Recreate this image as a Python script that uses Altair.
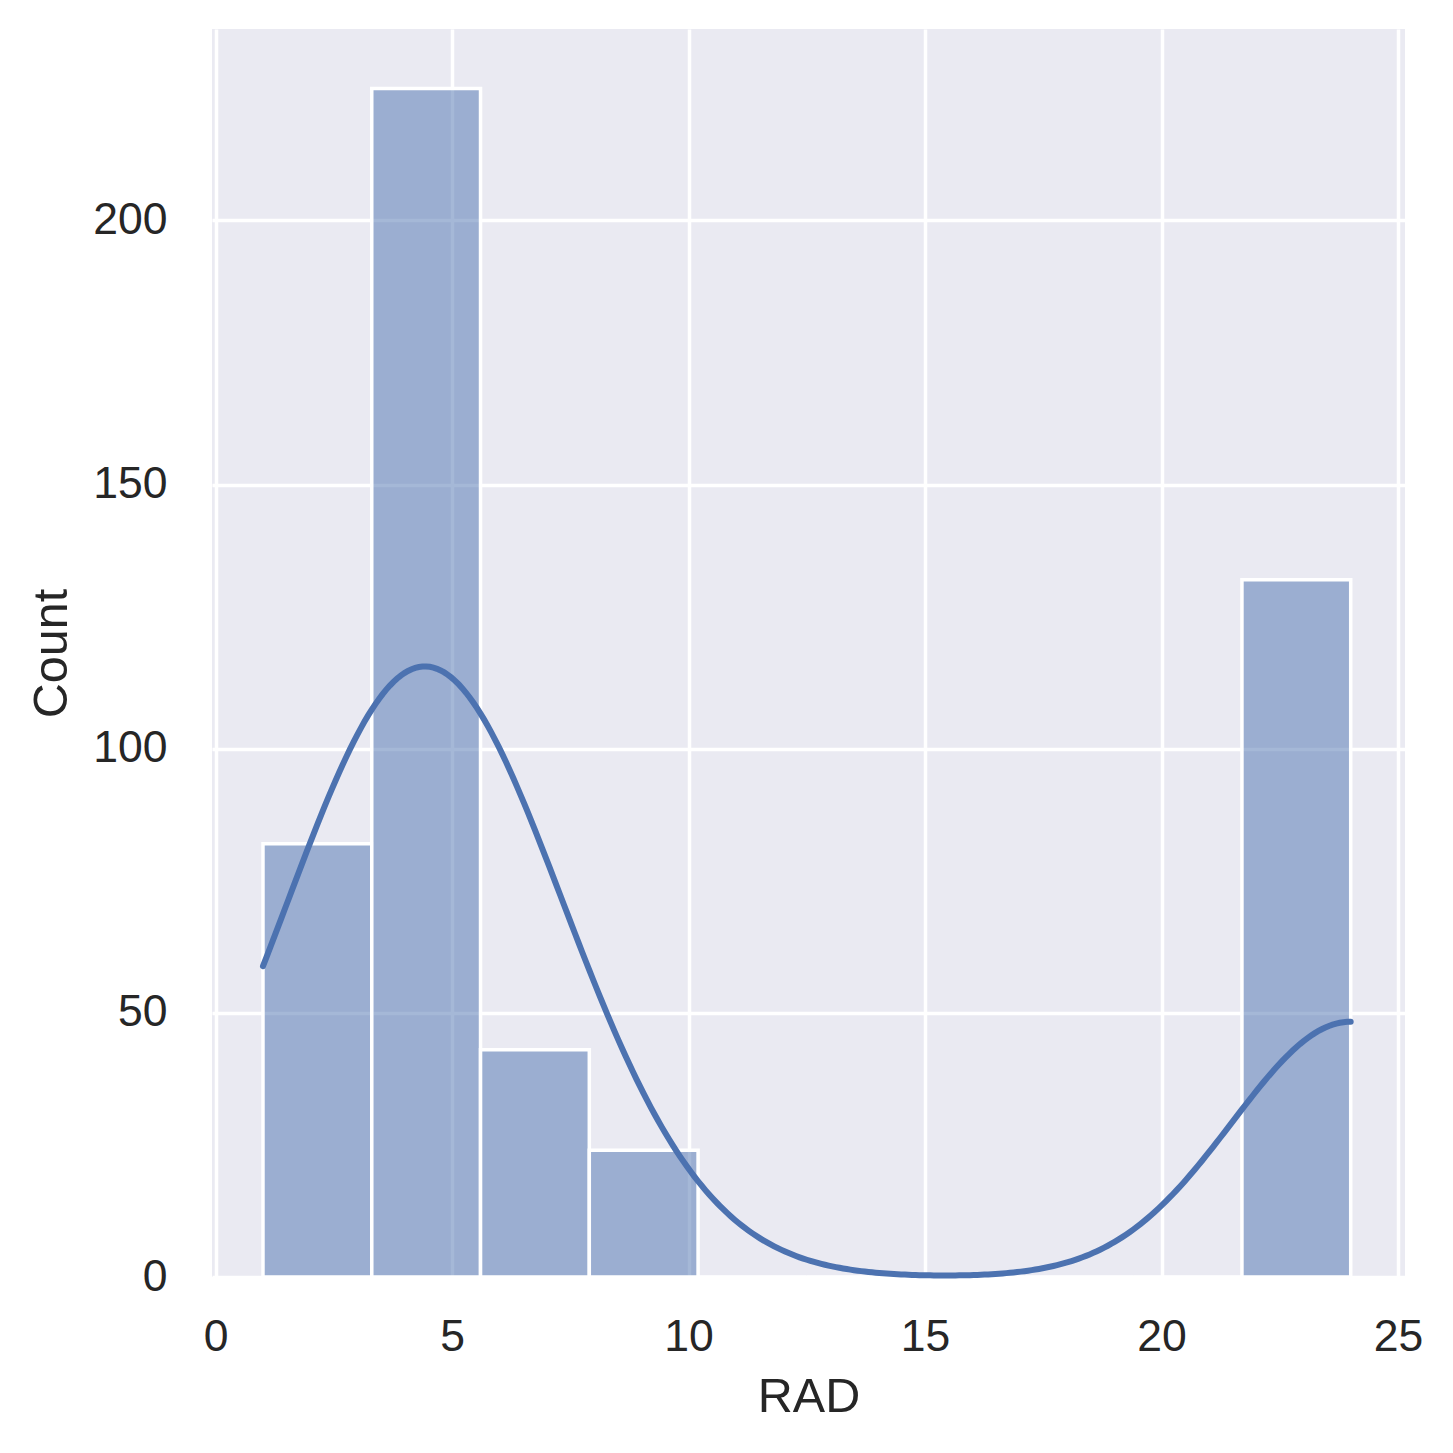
import numpy as np
import pandas as pd
import altair as alt

# RAD index values and how many tracts have each value
rad_values = [1, 2, 3, 4, 5, 6, 7, 8, 24]
rad_counts = [20, 24, 38, 110, 115, 26, 17, 24, 132]

x_ticks = [0, 5, 10, 15, 20, 25]
y_ticks = [0, 50, 100, 150, 200]

raw = np.repeat(np.array(rad_values, dtype=float), rad_counts)
raw_df = pd.DataFrame({"RAD": raw})

# histogram: 10 bins across the data range (as seaborn's histplot)
counts, edges = np.histogram(raw, bins=10)
bins_df = pd.DataFrame({"x0": edges[:-1], "x1": edges[1:], "count": counts})
bin_width = float(edges[1] - edges[0])

# Scott bandwidth, as scipy's gaussian_kde
bw = float(raw.std(ddof=1) * len(raw) ** (-1 / 5))

xscale = alt.Scale(domain=[-0.078, 25.148], nice=False, zero=False)
yscale = alt.Scale(domain=[0, 236.25], nice=False)

bars = alt.Chart(bins_df).mark_rect(
    fill="#4C72B0", fillOpacity=0.5, stroke="white", strokeWidth=3.5
).encode(
    x=alt.X("x0:Q", scale=xscale,
            axis=alt.Axis(values=x_ticks, title="RAD", format="d")),
    x2="x1:Q",
    y=alt.Y("count:Q", scale=yscale,
            axis=alt.Axis(values=y_ticks, title="Count", format="d")),
    y2=alt.datum(0),
)

kde = alt.Chart(raw_df).transform_density(
    "RAD", bandwidth=bw, extent=[1, 24], steps=300, counts=True,
    as_=["RAD", "density"],
).transform_calculate(
    count=f"datum.density * {bin_width}"
).mark_line(color="#4C72B0", strokeWidth=6, strokeCap="round").encode(
    x=alt.X("RAD:Q", scale=xscale),
    y=alt.Y("count:Q", scale=yscale),
)

chart = alt.layer(bars, kde).properties(
    width=1193, height=1248,
    autosize=alt.AutoSizeParams(type="none"),
    padding={"left": 204, "top": 21, "right": 40, "bottom": 170},
    background="white",
).configure_view(
    fill="#EAEAF2", stroke=None
).configure_axis(
    domain=False, ticks=False, tickSize=0,
    grid=True, gridColor="white", gridWidth=3.5, gridOpacity=1,
    labelFont="Liberation Sans", labelFontSize=44.5, labelColor="#262626",
    titleFont="Liberation Sans", titleFontSize=48.5, titleColor="#262626",
    titleFontWeight="normal",
).configure_axisY(
    labelPadding=45, titlePadding=16
).configure_axisX(
    labelPadding=38, titlePadding=15
)

chart.save("out.html", embed_options={"renderer": "svg", "actions": False})
